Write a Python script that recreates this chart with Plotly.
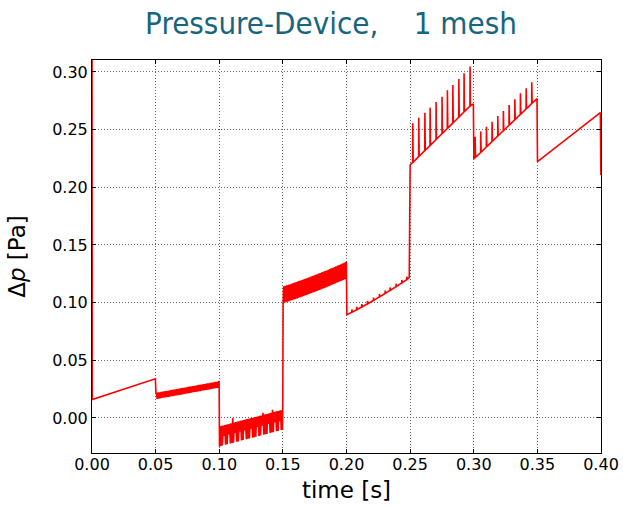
import plotly.graph_objects as go

# ---- data (time [s], delta p [Pa]) ----
# start-up transient and first ramp
a_time = [0.0, 0.0002, 0.0498]
a_val = [0.40, 0.0160, 0.0340]

# 0.05-0.10 s : fast oscillation band (start, peaks, troughs, end)
b_start = (0.0503, 0.0205)
b_peak_time = [0.05060, 0.05185, 0.05310, 0.05435, 0.05560, 0.05685, 0.05810, 0.05935,
               0.06060, 0.06185, 0.06310, 0.06435, 0.06560, 0.06685, 0.06810, 0.06935,
               0.07060, 0.07185, 0.07310, 0.07435, 0.07560, 0.07685, 0.07810, 0.07935,
               0.08060, 0.08185, 0.08310, 0.08435, 0.08560, 0.08685, 0.08810, 0.08935,
               0.09060, 0.09185, 0.09310, 0.09435, 0.09560, 0.09685, 0.09810, 0.09935]
b_peak_val = [0.0218, 0.0221, 0.0223, 0.0226, 0.0228, 0.0231, 0.0233, 0.0236,
              0.0238, 0.0241, 0.0243, 0.0246, 0.0248, 0.0251, 0.0253, 0.0256,
              0.0258, 0.0261, 0.0264, 0.0266, 0.0269, 0.0271, 0.0274, 0.0276,
              0.0279, 0.0281, 0.0284, 0.0286, 0.0289, 0.0291, 0.0294, 0.0296,
              0.0299, 0.0301, 0.0304, 0.0307, 0.0309, 0.0312, 0.0314, 0.0317]
b_trough_time = [0.05123, 0.05248, 0.05373, 0.05498, 0.05623, 0.05748, 0.05873, 0.05998,
                 0.06123, 0.06248, 0.06373, 0.06498, 0.06623, 0.06748, 0.06873, 0.06998,
                 0.07123, 0.07248, 0.07373, 0.07498, 0.07623, 0.07748, 0.07873, 0.07998,
                 0.08123, 0.08248, 0.08373, 0.08498, 0.08623, 0.08748, 0.08873, 0.08998,
                 0.09123, 0.09248, 0.09373, 0.09498, 0.09623, 0.09748, 0.09873, 0.09965]
b_trough_val = [0.0165, 0.0168, 0.0170, 0.0173, 0.0175, 0.0178, 0.0180, 0.0183,
                0.0185, 0.0188, 0.0190, 0.0193, 0.0195, 0.0198, 0.0200, 0.0203,
                0.0205, 0.0208, 0.0211, 0.0213, 0.0216, 0.0218, 0.0221, 0.0223,
                0.0226, 0.0228, 0.0231, 0.0233, 0.0236, 0.0238, 0.0241, 0.0243,
                0.0246, 0.0248, 0.0251, 0.0254, 0.0256, 0.0259, 0.0261, 0.0264]
b_end = (0.0999, 0.0322)

# 0.10-0.15 s
c_start = (0.1002, -0.0250)
c_peak_time = [0.10060, 0.10185, 0.10310, 0.10435, 0.10560, 0.10685, 0.10810, 0.10935,
               0.11060, 0.11185, 0.11310, 0.11435, 0.11560, 0.11685, 0.11810, 0.11935,
               0.12060, 0.12185, 0.12310, 0.12435, 0.12560, 0.12685, 0.12810, 0.12935,
               0.13060, 0.13185, 0.13310, 0.13435, 0.13560, 0.13685, 0.13810, 0.13935,
               0.14060, 0.14185, 0.14310, 0.14435, 0.14560, 0.14685, 0.14810, 0.14935]
c_peak_val = [-0.0072, -0.0068, -0.0065, -0.0061, -0.0057, -0.0054, -0.0050, -0.0047,
              0.0000, -0.0039, -0.0036, -0.0032, -0.0029, -0.0025, -0.0021, -0.0018,
              -0.0014, -0.0010, -0.0007, -0.0003, 0.0000, 0.0004, 0.0008, 0.0011,
              0.0015, 0.0019, 0.0022, 0.0045, 0.0030, 0.0033, 0.0037, 0.0040,
              0.0044, 0.0070, 0.0051, 0.0055, 0.0059, 0.0062, 0.0066, 0.0069]
c_trough_time = [0.10123, 0.10248, 0.10373, 0.10498, 0.10623, 0.10748, 0.10873, 0.10998,
                 0.11123, 0.11248, 0.11373, 0.11498, 0.11623, 0.11748, 0.11873, 0.11998,
                 0.12123, 0.12248, 0.12373, 0.12498, 0.12623, 0.12748, 0.12873, 0.12998,
                 0.13123, 0.13248, 0.13373, 0.13498, 0.13623, 0.13748, 0.13873, 0.13998,
                 0.14123, 0.14248, 0.14373, 0.14498, 0.14623, 0.14748, 0.14873, 0.14965]
c_trough_val = [-0.0243, -0.0239, -0.0155, -0.0232, -0.0228, -0.0144, -0.0221, -0.0218,
                -0.0214, -0.0129, -0.0207, -0.0203, -0.0119, -0.0196, -0.0192, -0.0108,
                -0.0185, -0.0181, -0.0178, -0.0093, -0.0171, -0.0167, -0.0163, -0.0079,
                -0.0156, -0.0152, -0.0068, -0.0145, -0.0141, -0.0138, -0.0053, -0.0131,
                -0.0127, -0.0123, -0.0039, -0.0116, -0.0112, -0.0028, -0.0105, -0.0102]
c_end = (0.1499, 0.0075)

# 0.15-0.20 s
d_start = (0.1502, 0.0994)
d_peak_time = [0.15060, 0.15185, 0.15310, 0.15435, 0.15560, 0.15685, 0.15810, 0.15935,
               0.16060, 0.16185, 0.16310, 0.16435, 0.16560, 0.16685, 0.16810, 0.16935,
               0.17060, 0.17185, 0.17310, 0.17435, 0.17560, 0.17685, 0.17810, 0.17935,
               0.18060, 0.18185, 0.18310, 0.18435, 0.18560, 0.18685, 0.18810, 0.18935,
               0.19060, 0.19185, 0.19310, 0.19435, 0.19560, 0.19685, 0.19810, 0.19935]
d_peak_val = [0.1141, 0.1146, 0.1150, 0.1155, 0.1160, 0.1164, 0.1169, 0.1174,
              0.1179, 0.1184, 0.1189, 0.1194, 0.1199, 0.1204, 0.1209, 0.1214,
              0.1219, 0.1225, 0.1230, 0.1235, 0.1241, 0.1246, 0.1252, 0.1257,
              0.1262, 0.1268, 0.1274, 0.1279, 0.1285, 0.1291, 0.1297, 0.1303,
              0.1309, 0.1315, 0.1321, 0.1327, 0.1333, 0.1339, 0.1345, 0.1352]
d_trough_time = [0.15123, 0.15248, 0.15373, 0.15498, 0.15623, 0.15748, 0.15873, 0.15998,
                 0.16123, 0.16248, 0.16373, 0.16498, 0.16623, 0.16748, 0.16873, 0.16998,
                 0.17123, 0.17248, 0.17373, 0.17498, 0.17623, 0.17748, 0.17873, 0.17998,
                 0.18123, 0.18248, 0.18373, 0.18498, 0.18623, 0.18748, 0.18873, 0.18998,
                 0.19123, 0.19248, 0.19373, 0.19498, 0.19623, 0.19748, 0.19873, 0.19965]
d_trough_val = [0.0999, 0.1004, 0.1008, 0.1013, 0.1018, 0.1022, 0.1027, 0.1032,
                0.1037, 0.1042, 0.1047, 0.1052, 0.1057, 0.1062, 0.1067, 0.1072,
                0.1077, 0.1083, 0.1088, 0.1093, 0.1099, 0.1104, 0.1110, 0.1115,
                0.1120, 0.1126, 0.1132, 0.1137, 0.1143, 0.1149, 0.1155, 0.1161,
                0.1167, 0.1173, 0.1179, 0.1185, 0.1191, 0.1197, 0.1203, 0.1210]
d_end = (0.1999, 0.1355)

# 0.20-0.25 s : curved ramp with small teeth
e_time = [0.2003, 0.2006, 0.2041, 0.2042, 0.2046, 0.2080, 0.2081, 0.2085, 0.2119,
          0.2120, 0.2124, 0.2164, 0.2165, 0.2169, 0.2211, 0.2212, 0.2216, 0.2258,
          0.2259, 0.2263, 0.2303, 0.2304, 0.2308, 0.2342, 0.2343, 0.2347, 0.2389,
          0.2390, 0.2394, 0.2434, 0.2435, 0.2439, 0.2473, 0.2474, 0.2478, 0.2493]
e_val = [0.0893, 0.0896, 0.0916, 0.0941, 0.0918, 0.0939, 0.0964, 0.0941, 0.0962,
         0.0987, 0.0964, 0.0989, 0.1014, 0.0991, 0.1019, 0.1044, 0.1021, 0.1050,
         0.1075, 0.1052, 0.1079, 0.1104, 0.1081, 0.1106, 0.1131, 0.1108, 0.1139,
         0.1164, 0.1141, 0.1172, 0.1197, 0.1174, 0.1200, 0.1225, 0.1203, 0.1216]

# 0.25-0.30 s : ramp with tall spikes
f_time = [0.2500, 0.2520, 0.2521, 0.2524, 0.2567, 0.2568, 0.2571, 0.2615, 0.2616,
          0.2619, 0.2656, 0.2657, 0.2660, 0.2703, 0.2704, 0.2707, 0.2750, 0.2751,
          0.2754, 0.2792, 0.2793, 0.2796, 0.2835, 0.2836, 0.2839, 0.2882, 0.2883,
          0.2886, 0.2923, 0.2924, 0.2927, 0.2970, 0.2971, 0.2974, 0.2997]
f_val = [0.2194, 0.2215, 0.2555, 0.2218, 0.2266, 0.2604, 0.2269, 0.2318, 0.2647,
         0.2321, 0.2362, 0.2691, 0.2365, 0.2414, 0.2740, 0.2417, 0.2465, 0.2786,
         0.2468, 0.2510, 0.2842, 0.2513, 0.2557, 0.2888, 0.2560, 0.2608, 0.2940,
         0.2611, 0.2653, 0.2989, 0.2656, 0.2704, 0.3047, 0.2707, 0.2723]

# 0.30-0.35 s
g_time = [0.3001, 0.3010, 0.3011, 0.3014, 0.3054, 0.3055, 0.3058, 0.3099, 0.3100,
          0.3103, 0.3143, 0.3144, 0.3147, 0.3188, 0.3189, 0.3192, 0.3232, 0.3233,
          0.3236, 0.3277, 0.3278, 0.3281, 0.3322, 0.3323, 0.3326, 0.3366, 0.3367,
          0.3370, 0.3411, 0.3412, 0.3415, 0.3455, 0.3456, 0.3459, 0.3497]
g_val = [0.2246, 0.2256, 0.2439, 0.2259, 0.2302, 0.2483, 0.2305, 0.2350, 0.2526,
         0.2353, 0.2396, 0.2569, 0.2399, 0.2444, 0.2619, 0.2447, 0.2490, 0.2662,
         0.2493, 0.2538, 0.2714, 0.2541, 0.2585, 0.2763, 0.2588, 0.2632, 0.2815,
         0.2635, 0.2679, 0.2858, 0.2682, 0.2726, 0.2911, 0.2729, 0.2770]

# 0.35-0.40 s
h_time = [0.3501, 0.3995, 0.3999]
h_val = [0.2222, 0.2647, 0.2107]

x_ticks = [0.00, 0.05, 0.10, 0.15, 0.20, 0.25, 0.30, 0.35, 0.40]
x_ticklabels = ["0.00", "0.05", "0.10", "0.15", "0.20", "0.25", "0.30", "0.35", "0.40"]
y_ticks = [0.00, 0.05, 0.10, 0.15, 0.20, 0.25, 0.30]
y_ticklabels = ["0.00", "0.05", "0.10", "0.15", "0.20", "0.25", "0.30"]


def band(start, pt, pv, tt, tv, end):
    ts, vs = [start[0]], [start[1]]
    for a, b, c, d in zip(pt, pv, tt, tv):
        ts += [a, c]
        vs += [b, d]
    ts.append(end[0])
    vs.append(end[1])
    return ts, vs


bt, bv = band(b_start, b_peak_time, b_peak_val, b_trough_time, b_trough_val, b_end)
ct, cv = band(c_start, c_peak_time, c_peak_val, c_trough_time, c_trough_val, c_end)
dt, dv = band(d_start, d_peak_time, d_peak_val, d_trough_time, d_trough_val, d_end)

time = a_time + bt + ct + dt + e_time + f_time + g_time + h_time
dp = a_val + bv + cv + dv + e_val + f_val + g_val + h_val

fig = go.Figure()
fig.add_trace(go.Scatter(x=time, y=dp, mode="lines",
                         line=dict(color="#ff0000", width=1.6),
                         hoverinfo="skip", showlegend=False))

tick_font = dict(family="DejaVu Sans", size=16, color="black")
axis_common = dict(
    showgrid=True, gridcolor="#666666", griddash="1px,2px", gridwidth=1,
    showline=True, linecolor="black", linewidth=1, mirror="allticks",
    ticks="inside", ticklen=4, tickcolor="black", tickwidth=1,
    tickfont=tick_font, zeroline=False, automargin=False,
)

fig.update_layout(
    width=625, height=508,
    margin=dict(l=92, r=24, t=60, b=55),
    paper_bgcolor="white", plot_bgcolor="white",
    title=dict(text="Pressure-Device,\u00a0\u00a0\u00a0\u00a01 mesh",
               font=dict(family="DejaVu Sans Condensed, Roboto", size=31, color="#17667e"),
               x=0.5296, xanchor="center", xref="container",
               y=0.9547, yanchor="middle", yref="container"),
    xaxis=dict(range=[0, 0.4], tickvals=x_ticks, ticktext=x_ticklabels,
               ticklabelstandoff=-3,
               title=dict(text="time [s]", font=dict(family="DejaVu Sans", size=23, color="black"),
                          standoff=8),
               **axis_common),
    yaxis=dict(range=[-0.0304, 0.3104], tickvals=y_ticks, ticktext=y_ticklabels,
               title=dict(text="\u0394<i>p</i> [Pa]", font=dict(family="DejaVu Sans", size=23, color="black"),
                          standoff=20),
               **axis_common),
)

# remove the default page margin so the figure fills the window exactly
fig.write_html("out.html", config={"displayModeBar": False},
               post_script="document.body.style.margin='0';")
